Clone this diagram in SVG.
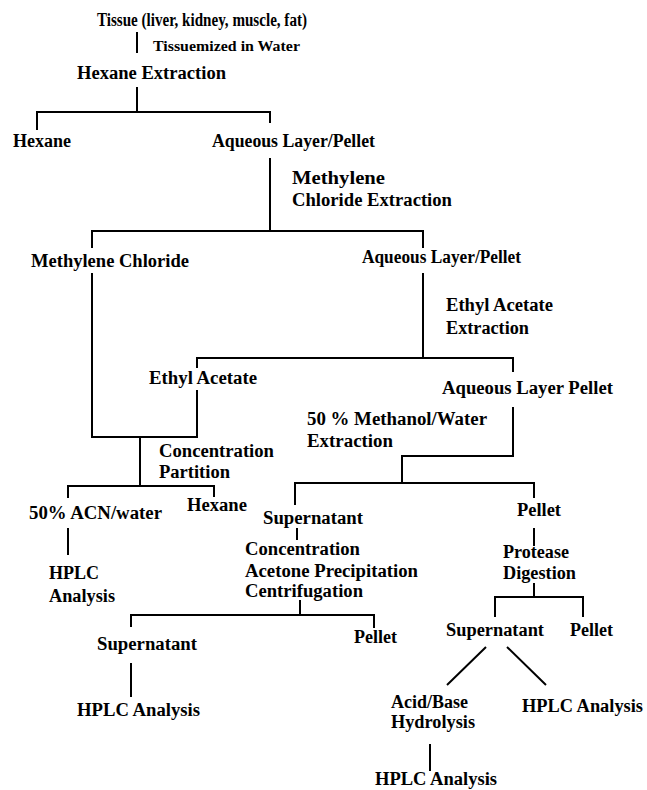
<svg xmlns="http://www.w3.org/2000/svg" width="647" height="790" viewBox="0 0 647 790">
<style>
.t{font-family:"Liberation Serif","Times New Roman",serif;font-weight:bold;font-size:18px;fill:#000}
.s{font-size:14px}
.c{fill:none;stroke:#000;stroke-width:2}
</style>
<rect width="647" height="790" fill="#fff"/>
<g id="connectors" class="c">
<path d="M137 32V53"/>
<path d="M137 87V112M37 130V112H270V123"/>
<path d="M270 158V231M92 248V231H423V248"/>
<path d="M92 273V437H197V390M140 437V486"/>
<path d="M423 273V358M197 368V358H513V372"/>
<path d="M68 498V486H214V497"/>
<path d="M68 528V555"/>
<path d="M513 407V456H402V483M295 505V483H534V498"/>
<path d="M297 528V540"/>
<path d="M300 600V615M131 627V615H374V628"/>
<path d="M131 663V697"/>
<path d="M534 528V546M534 583V597M495 617V597H583V617"/>
<path d="M486 647L447 685M507 647L546 685"/>
<path d="M430 744V771"/>
</g>
<g id="tissue"><text class="t" x="97" y="26" style="font-size:18.5px" textLength="210" lengthAdjust="spacingAndGlyphs">Tissue (liver, kidney, muscle, fat)</text></g>
<g id="tissuemized"><text class="t s" x="153" y="51" textLength="147" lengthAdjust="spacingAndGlyphs">Tissuemized in Water</text></g>
<g id="hexane-extraction"><text class="t" x="77" y="79" textLength="149" lengthAdjust="spacingAndGlyphs">Hexane Extraction</text></g>
<g id="hexane1"><text class="t" x="13" y="147" textLength="58" lengthAdjust="spacingAndGlyphs">Hexane</text></g>
<g id="aqueous1"><text class="t" x="212" y="147" textLength="163" lengthAdjust="spacingAndGlyphs">Aqueous Layer/Pellet</text></g>
<g id="mc-extraction"><text class="t" x="292" y="184" textLength="93" lengthAdjust="spacingAndGlyphs">Methylene</text><text class="t" x="292" y="206" textLength="160" lengthAdjust="spacingAndGlyphs">Chloride Extraction</text></g>
<g id="methylene-chloride"><text class="t" x="31" y="267" textLength="158" lengthAdjust="spacingAndGlyphs">Methylene Chloride</text></g>
<g id="aqueous2"><text class="t" x="362" y="263" textLength="159" lengthAdjust="spacingAndGlyphs">Aqueous Layer/Pellet</text></g>
<g id="ea-extraction"><text class="t" x="446" y="311" textLength="107" lengthAdjust="spacingAndGlyphs">Ethyl Acetate</text><text class="t" x="446" y="334" textLength="83" lengthAdjust="spacingAndGlyphs">Extraction</text></g>
<g id="ethyl-acetate"><text class="t" x="149" y="384" textLength="108" lengthAdjust="spacingAndGlyphs">Ethyl Acetate</text></g>
<g id="aqueous3"><text class="t" x="442" y="394" textLength="171" lengthAdjust="spacingAndGlyphs">Aqueous Layer Pellet</text></g>
<g id="methanol-extraction"><text class="t" x="307" y="425" textLength="180" lengthAdjust="spacingAndGlyphs">50 % Methanol/Water</text><text class="t" x="307" y="447" textLength="86" lengthAdjust="spacingAndGlyphs">Extraction</text></g>
<g id="conc-partition"><text class="t" x="159" y="457" textLength="115" lengthAdjust="spacingAndGlyphs">Concentration</text><text class="t" x="159" y="478" textLength="71" lengthAdjust="spacingAndGlyphs">Partition</text></g>
<g id="acn-water"><text class="t" x="29" y="519" textLength="133" lengthAdjust="spacingAndGlyphs">50% ACN/water</text></g>
<g id="hexane2"><text class="t" x="187" y="511" textLength="60" lengthAdjust="spacingAndGlyphs">Hexane</text></g>
<g id="hplc1"><text class="t" x="49" y="579" textLength="50" lengthAdjust="spacingAndGlyphs">HPLC</text><text class="t" x="49" y="602" textLength="66" lengthAdjust="spacingAndGlyphs">Analysis</text></g>
<g id="supernatant1"><text class="t" x="263" y="524" textLength="100" lengthAdjust="spacingAndGlyphs">Supernatant</text></g>
<g id="pellet1"><text class="t" x="517" y="516" textLength="44" lengthAdjust="spacingAndGlyphs">Pellet</text></g>
<g id="conc-acetone"><text class="t" x="245" y="555" textLength="115" lengthAdjust="spacingAndGlyphs">Concentration</text><text class="t" x="245" y="577" textLength="173" lengthAdjust="spacingAndGlyphs">Acetone Precipitation</text><text class="t" x="245" y="597" textLength="118" lengthAdjust="spacingAndGlyphs">Centrifugation</text></g>
<g id="protease"><text class="t" x="503" y="558" textLength="66" lengthAdjust="spacingAndGlyphs">Protease</text><text class="t" x="503" y="579" textLength="73" lengthAdjust="spacingAndGlyphs">Digestion</text></g>
<g id="supernatant2"><text class="t" x="97" y="650" textLength="100" lengthAdjust="spacingAndGlyphs">Supernatant</text></g>
<g id="pellet2"><text class="t" x="354" y="643" textLength="43" lengthAdjust="spacingAndGlyphs">Pellet</text></g>
<g id="supernatant3"><text class="t" x="446" y="636" textLength="98" lengthAdjust="spacingAndGlyphs">Supernatant</text></g>
<g id="pellet3"><text class="t" x="570" y="636" textLength="43" lengthAdjust="spacingAndGlyphs">Pellet</text></g>
<g id="hplc2"><text class="t" x="77" y="716" textLength="123" lengthAdjust="spacingAndGlyphs">HPLC Analysis</text></g>
<g id="hydrolysis"><text class="t" x="391" y="708" textLength="77" lengthAdjust="spacingAndGlyphs">Acid/Base</text><text class="t" x="391" y="728" textLength="84" lengthAdjust="spacingAndGlyphs">Hydrolysis</text></g>
<g id="hplc3"><text class="t" x="522" y="712" textLength="121" lengthAdjust="spacingAndGlyphs">HPLC Analysis</text></g>
<g id="hplc4"><text class="t" x="375" y="785" textLength="122" lengthAdjust="spacingAndGlyphs">HPLC Analysis</text></g>
</svg>
